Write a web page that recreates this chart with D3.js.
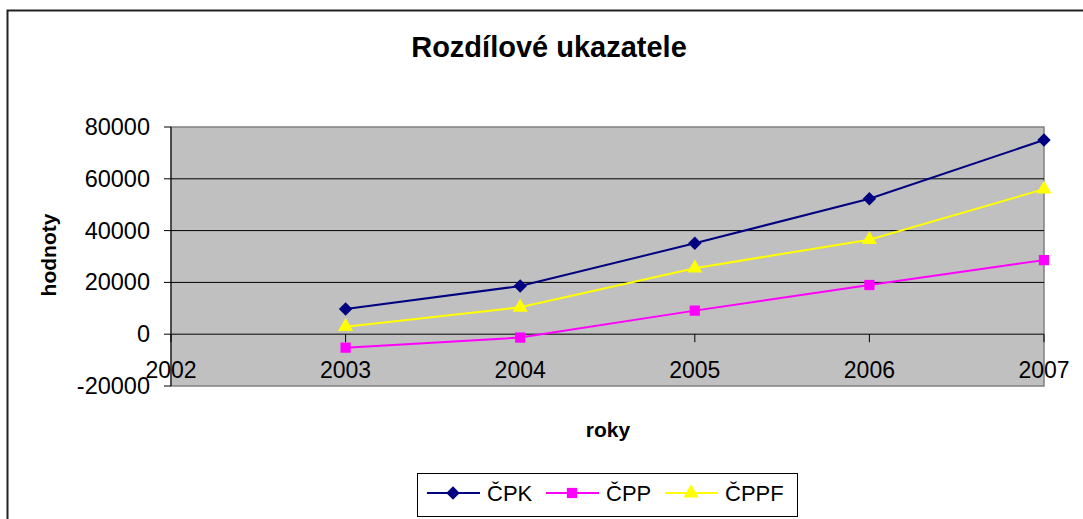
<!DOCTYPE html>
<html>
<head>
<meta charset="utf-8">
<script src="https://cdn.jsdelivr.net/npm/d3@7/dist/d3.min.js"></script>
<style>
  body { margin: 0; background: #fff; }
  text { font-family: "Liberation Sans", Arial, sans-serif; fill: #000; }
</style>
</head>
<body>
<svg id="chart" width="1083" height="519"></svg>
<script>
const years = [2003, 2004, 2005, 2006, 2007];
const xTicks = [2002, 2003, 2004, 2005, 2006, 2007];
const yTicks = [-20000, 0, 20000, 40000, 60000, 80000];
const cpk = [9700, 18600, 35100, 52300, 75000];
const cpp = [-5200, -1300, 9100, 19000, 28600];
const cppf = [2900, 10400, 25500, 36500, 56000];

const series = [
  { name: 'ČPK', values: cpk, color: '#000080', shape: d3.symbolDiamond2, size: 115 },
  { name: 'ČPP', values: cpp, color: '#ff00ff', shape: d3.symbolSquare, size: 105 },
  { name: 'ČPPF', values: cppf, color: '#ffff00', shape: d3.symbolTriangle, size: 100 }
];

const svg = d3.select('#chart');

// outer chart border
svg.append('rect')
  .attr('x', 7.5).attr('y', 10.5)
  .attr('width', 1200).attr('height', 600)
  .attr('fill', '#fff')
  .attr('stroke', '#222').attr('stroke-width', 2);

const x = d3.scaleLinear().domain([2002, 2007]).range([171, 1044]);
const y = d3.scaleLinear().domain([-20000, 80000]).range([386, 127]);

// plot area
svg.append('rect')
  .attr('x', x(2002)).attr('y', y(80000))
  .attr('width', x(2007) - x(2002)).attr('height', y(-20000) - y(80000))
  .attr('fill', '#c0c0c0')
  .attr('stroke', '#808080').attr('stroke-width', 1.5);

// gridlines
svg.append('g')
  .selectAll('line')
  .data([20000, 40000, 60000])
  .join('line')
  .attr('x1', x(2002)).attr('x2', x(2007))
  .attr('y1', d => y(d)).attr('y2', d => y(d))
  .attr('stroke', '#000').attr('stroke-width', 1);

// category axis at zero
svg.append('line')
  .attr('x1', x(2002)).attr('x2', x(2007))
  .attr('y1', y(0)).attr('y2', y(0))
  .attr('stroke', '#404040').attr('stroke-width', 1.5);

svg.append('g')
  .selectAll('line')
  .data(xTicks)
  .join('line')
  .attr('x1', d => x(d)).attr('x2', d => x(d))
  .attr('y1', y(0)).attr('y2', y(0) + 8)
  .attr('stroke', '#000');

svg.append('g')
  .selectAll('text')
  .data(xTicks)
  .join('text')
  .attr('x', d => x(d))
  .attr('y', 378)
  .attr('text-anchor', 'middle')
  .attr('font-size', 23)
  .text(d => d);

// value axis
svg.append('line')
  .attr('x1', x(2002)).attr('x2', x(2002))
  .attr('y1', y(80000)).attr('y2', y(-20000))
  .attr('stroke', '#000');

svg.append('g')
  .selectAll('line')
  .data(yTicks)
  .join('line')
  .attr('x1', x(2002) - 7).attr('x2', x(2002))
  .attr('y1', d => y(d)).attr('y2', d => y(d))
  .attr('stroke', '#000');

svg.append('g')
  .selectAll('text')
  .data(yTicks)
  .join('text')
  .attr('x', 150)
  .attr('y', d => y(d) + 8)
  .attr('text-anchor', 'end')
  .attr('font-size', 23.5)
  .text(d => d);

// series
const line = d3.line()
  .x((d, i) => x(years[i]))
  .y(d => y(d));

series.forEach(s => {
  svg.append('path')
    .attr('d', line(s.values))
    .attr('fill', 'none')
    .attr('stroke', s.color)
    .attr('stroke-width', 2);
  svg.append('g')
    .selectAll('path')
    .data(s.values)
    .join('path')
    .attr('transform', (d, i) => `translate(${x(years[i])},${y(d)})`)
    .attr('d', d3.symbol().type(s.shape).size(s.size))
    .attr('fill', s.color);
});

// titles
svg.append('text')
  .attr('x', 549).attr('y', 57)
  .attr('text-anchor', 'middle')
  .attr('font-size', 29).attr('font-weight', 'bold')
  .text('Rozdílové ukazatele');

svg.append('text')
  .attr('transform', 'translate(56,255) rotate(-90)')
  .attr('text-anchor', 'middle')
  .attr('font-size', 21).attr('font-weight', 'bold')
  .text('hodnoty');

svg.append('text')
  .attr('x', 608).attr('y', 437)
  .attr('text-anchor', 'middle')
  .attr('font-size', 21).attr('font-weight', 'bold')
  .text('roky');

// legend
const legend = svg.append('g');
legend.append('rect')
  .attr('x', 417.5).attr('y', 473.5)
  .attr('width', 380).attr('height', 43)
  .attr('fill', '#fff').attr('stroke', '#000');

const legendX = [427, 546, 665];
const item = legend.selectAll('g.item')
  .data(series)
  .join('g')
  .attr('class', 'item')
  .attr('transform', (d, i) => `translate(${legendX[i]},493)`);

item.append('line')
  .attr('x1', 0).attr('x2', 53)
  .attr('stroke', d => d.color).attr('stroke-width', 2);
item.append('path')
  .attr('transform', 'translate(26,0)')
  .attr('d', d => d3.symbol().type(d.shape).size(d.size)())
  .attr('fill', d => d.color);
item.append('text')
  .attr('x', 60).attr('y', 8)
  .attr('font-size', 22)
  .text(d => d.name);
</script>
</body>
</html>
